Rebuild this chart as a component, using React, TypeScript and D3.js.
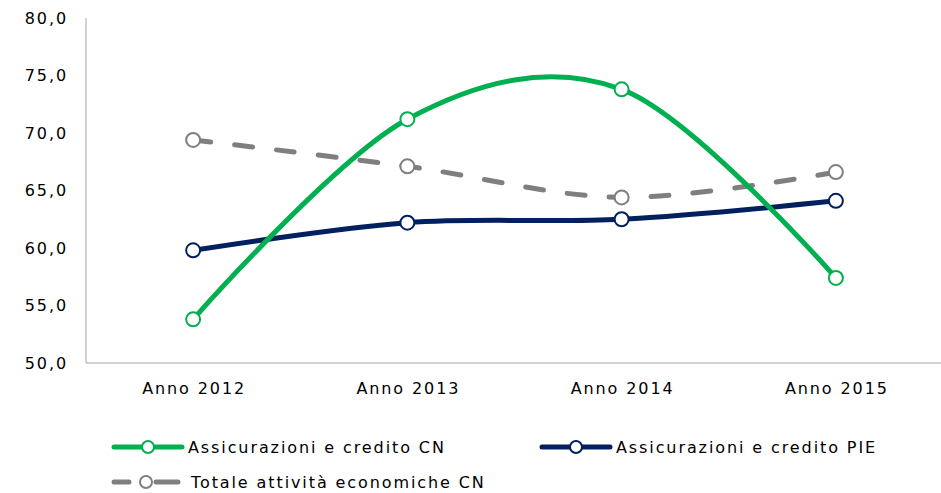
import React, { useEffect, useRef } from "react";
import * as d3 from "d3";

const categories = ["Anno 2012", "Anno 2013", "Anno 2014", "Anno 2015"];
const seriesNames = ["Assicurazioni e credito CN", "Assicurazioni e credito PIE", "Totale attività economiche CN"];
const greenValues = [53.8, 71.2, 73.8, 57.4];
const navyValues = [59.8, 62.2, 62.5, 64.1];
const grayValues = [69.4, 67.1, 64.4, 66.6];
const yTicks = [50, 55, 60, 65, 70, 75, 80];

const W = 941, H = 493;
const FONT = "'DejaVu Sans', Verdana, sans-serif";
const LS = 1.9;

export default function App() {
  const ref = useRef<SVGSVGElement>(null);
  useEffect(() => {
    const svg = d3.select(ref.current);
    svg.selectAll("*").remove();
    const left = 86, right = 943, top = 18, bottom = 363;
    const x = d3.scaleBand().domain(categories).range([left, right]);
    const y = d3.scaleLinear().domain([50, 80]).range([bottom, top]);
    const cx = (c: string) => (x(c) as number) + x.bandwidth() / 2;

    // axes
    svg.append("line").attr("x1", left).attr("x2", left).attr("y1", top).attr("y2", bottom)
      .attr("stroke", "#a6a6a6").attr("stroke-width", 1);
    svg.append("line").attr("x1", left).attr("x2", W).attr("y1", bottom).attr("y2", bottom)
      .attr("stroke", "#a6a6a6").attr("stroke-width", 1);

    svg.append("g").selectAll("text").data(yTicks).join("text")
      .attr("x", 68).attr("y", d => y(d)).attr("dy", "0.35em")
      .attr("text-anchor", "end").attr("font-family", FONT).attr("font-size", 16)
      .attr("letter-spacing", LS).attr("fill", "#000")
      .text(d => d.toFixed(1).replace(".", ","));

    svg.append("g").selectAll("text").data(categories).join("text")
      .attr("x", d => cx(d) + 1).attr("y", 388).attr("dy", "0.35em")
      .attr("text-anchor", "middle").attr("font-family", FONT).attr("font-size", 16)
      .attr("letter-spacing", LS).attr("fill", "#000")
      .text(d => d);

    const series = [
      { name: seriesNames[2], values: grayValues, color: "#7f7f7f", dash: "18 24" },
      { name: seriesNames[1], values: navyValues, color: "#002060", dash: null },
      { name: seriesNames[0], values: greenValues, color: "#00b050", dash: null },
    ];

    const line = d3.line<number>()
      .x((_, i) => cx(categories[i]))
      .y(d => y(d))
      .curve(d3.curveCatmullRom.alpha(0));

    series.forEach(s => {
      svg.append("path").attr("d", line(s.values) as string)
        .attr("fill", "none").attr("stroke", s.color).attr("stroke-width", 5)
        .attr("stroke-linecap", "round").attr("stroke-linejoin", "round")
        .attr("stroke-dasharray", s.dash);
      svg.append("g").selectAll("circle").data(s.values).join("circle")
        .attr("cx", (_, i) => cx(categories[i])).attr("cy", d => y(d)).attr("r", 7)
        .attr("fill", "#fff").attr("stroke", s.color).attr("stroke-width", 2);
    });

    // legend
    const legend = [
      { name: seriesNames[0], color: "#00b050", dashed: false, x0: 112, y0: 447 },
      { name: seriesNames[1], color: "#002060", dashed: false, x0: 540, y0: 447 },
      { name: seriesNames[2], color: "#7f7f7f", dashed: true, x0: 112, y0: 482 },
    ];
    legend.forEach(l => {
      const g = svg.append("g");
      if (l.dashed) {
        g.append("line").attr("x1", l.x0 + 2).attr("x2", l.x0 + 17).attr("y1", l.y0).attr("y2", l.y0)
          .attr("stroke", l.color).attr("stroke-width", 5).attr("stroke-linecap", "round");
        g.append("line").attr("x1", l.x0 + 44).attr("x2", l.x0 + 66).attr("y1", l.y0).attr("y2", l.y0)
          .attr("stroke", l.color).attr("stroke-width", 5).attr("stroke-linecap", "round");
        g.append("circle").attr("cx", l.x0 + 34).attr("cy", l.y0).attr("r", 6)
          .attr("fill", "#fff").attr("stroke", l.color).attr("stroke-width", 2);
      } else {
        g.append("line").attr("x1", l.x0 + 2).attr("x2", l.x0 + 70).attr("y1", l.y0).attr("y2", l.y0)
          .attr("stroke", l.color).attr("stroke-width", 5).attr("stroke-linecap", "round");
        g.append("circle").attr("cx", l.x0 + 36).attr("cy", l.y0).attr("r", 6)
          .attr("fill", "#fff").attr("stroke", l.color).attr("stroke-width", 2);
      }
      g.append("text").attr("x", l.x0 + (l.dashed ? 79 : 76)).attr("y", l.y0).attr("dy", "0.35em")
        .attr("font-family", FONT).attr("font-size", 16).attr("letter-spacing", LS).attr("fill", "#000")
        .text(l.name);
    });
  }, []);
  return (
    <svg ref={ref} width={W} height={H} style={{ position: "absolute", left: 0, top: 0, background: "#fff" }} />
  );
}
